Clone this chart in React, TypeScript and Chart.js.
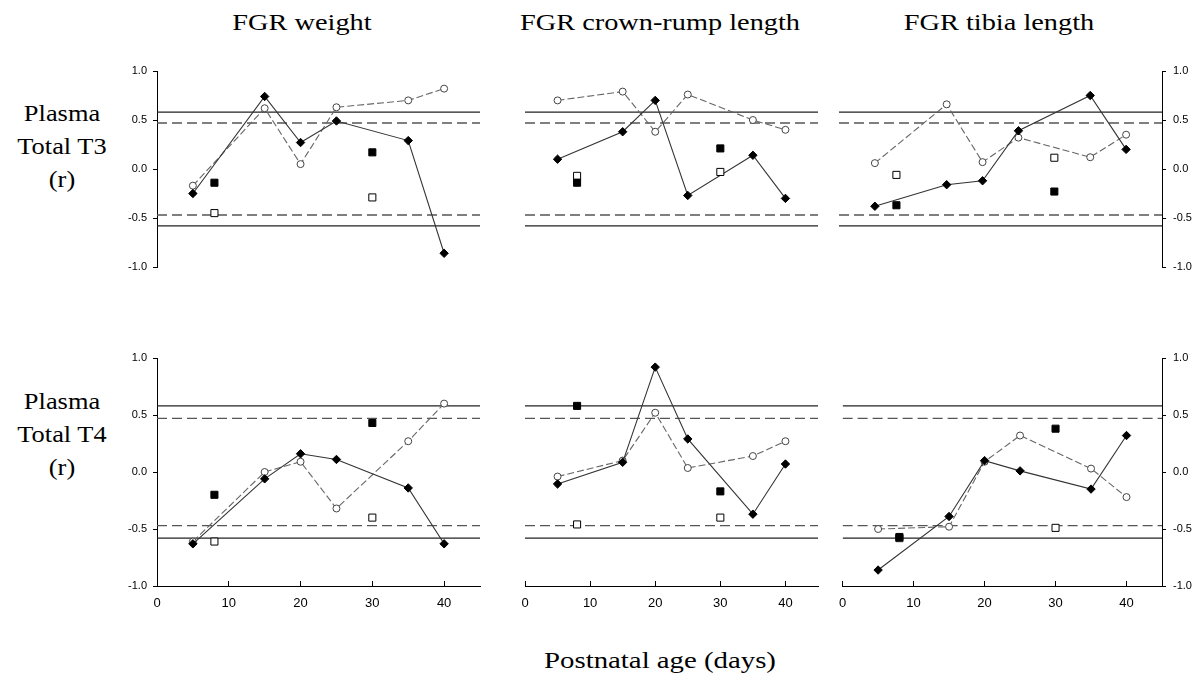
import React, { useEffect, useRef } from 'react';
import { Chart, registerables } from 'chart.js';

Chart.register(...registerables);

// ---------------- DATA ----------------
const AGES = [5, 15, 20, 25, 35, 40];
const SQUARE_AGES = [8, 30];
const X_TICKS = [0, 10, 20, 30, 40];
const Y_TICKS = [-1, -0.5, 0, 0.5, 1];
const REF_SOLID = 0.58;
const REF_DASHED = 0.47;

const COLUMN_TITLES = ['FGR weight', 'FGR crown-rump length', 'FGR tibia length'];
const ROW_LABELS = [['Plasma', 'Total T3', '(r)'], ['Plasma', 'Total T4', '(r)']];
const X_TITLE = 'Postnatal age (days)';

// Plasma Total T3
const T3_WEIGHT_DIAMOND = [-0.25, 0.74, 0.27, 0.49, 0.29, -0.86];
const T3_WEIGHT_CIRCLE = [-0.17, 0.62, 0.05, 0.63, 0.7, 0.82];
const T3_WEIGHT_SQ_FILLED = [-0.14, 0.17];
const T3_WEIGHT_SQ_OPEN = [-0.45, -0.29];

const T3_CRL_DIAMOND = [0.1, 0.38, 0.7, -0.27, 0.14, -0.3];
const T3_CRL_CIRCLE = [0.7, 0.79, 0.38, 0.76, 0.5, 0.4];
const T3_CRL_SQ_FILLED = [-0.14, 0.21];
const T3_CRL_SQ_OPEN = [-0.07, -0.03];

const T3_TIBIA_DIAMOND = [-0.38, -0.16, -0.12, 0.39, 0.75, 0.2];
const T3_TIBIA_CIRCLE = [0.06, 0.66, 0.07, 0.32, 0.12, 0.35];
const T3_TIBIA_SQ_FILLED = [-0.37, -0.23];
const T3_TIBIA_SQ_OPEN = [-0.06, 0.115];

// Plasma Total T4
const T4_WEIGHT_DIAMOND = [-0.63, -0.06, 0.16, 0.11, -0.14, -0.63];
const T4_WEIGHT_CIRCLE = [-0.61, 0.0, 0.09, -0.32, 0.27, 0.6];
const T4_WEIGHT_SQ_FILLED = [-0.2, 0.43];
const T4_WEIGHT_SQ_OPEN = [-0.61, -0.4];

const T4_CRL_DIAMOND = [-0.105, 0.085, 0.92, 0.29, -0.37, 0.07];
const T4_CRL_CIRCLE = [-0.04, 0.1, 0.52, 0.035, 0.14, 0.27];
const T4_CRL_SQ_FILLED = [0.58, -0.17];
const T4_CRL_SQ_OPEN = [-0.46, -0.4];

const T4_TIBIA_DIAMOND = [-0.86, -0.39, 0.1, 0.01, -0.15, 0.32];
const T4_TIBIA_CIRCLE = [-0.5, -0.48, 0.09, 0.32, 0.03, -0.22];
const T4_TIBIA_SQ_FILLED = [-0.57, 0.38];
const T4_TIBIA_SQ_OPEN = [-0.58, -0.49];

const PANELS = [
  [
    [T3_WEIGHT_DIAMOND, T3_WEIGHT_CIRCLE, T3_WEIGHT_SQ_FILLED, T3_WEIGHT_SQ_OPEN],
    [T3_CRL_DIAMOND, T3_CRL_CIRCLE, T3_CRL_SQ_FILLED, T3_CRL_SQ_OPEN],
    [T3_TIBIA_DIAMOND, T3_TIBIA_CIRCLE, T3_TIBIA_SQ_FILLED, T3_TIBIA_SQ_OPEN],
  ],
  [
    [T4_WEIGHT_DIAMOND, T4_WEIGHT_CIRCLE, T4_WEIGHT_SQ_FILLED, T4_WEIGHT_SQ_OPEN],
    [T4_CRL_DIAMOND, T4_CRL_CIRCLE, T4_CRL_SQ_FILLED, T4_CRL_SQ_OPEN],
    [T4_TIBIA_DIAMOND, T4_TIBIA_CIRCLE, T4_TIBIA_SQ_FILLED, T4_TIBIA_SQ_OPEN],
  ],
];

// ---------------- LAYOUT ----------------
const X_MIN = 0;
const X_MAX = 45;
const COLS = [
  { l: 157, r: 480 },
  { l: 495, r: 818 },
  { l: 839, r: 1162 },
];
const ROWS = [
  { t: 71, b: 297 },
  { t: 358, b: 586 },
];
const PAD = 15;
const PAD_RIGHT_LAST = 5;
const Y_AXIS_W = [40, 0, 30];
const X_AXIS_H = [0, 30];

const SERIF = '"Liberation Serif", "Times New Roman", serif';
const TICK_FONT = '"Liberation Sans", Arial, sans-serif';

function zip(xs: number[], ys: number[]) {
  return xs.map((x, i) => ({ x, y: ys[i] }));
}

function refLine(v: number, dashed: boolean) {
  return {
    data: [
      { x: X_MIN, y: v },
      { x: X_MAX, y: v },
    ],
    showLine: true,
    borderColor: dashed ? '#555' : '#222',
    borderWidth: dashed ? 1.4 : 1.2,
    borderDash: dashed ? [10, 5] : [],
    pointRadius: 0,
    order: 10,
  };
}

function Panel({ row, col }: { row: number; col: number }) {
  const ref = useRef<HTMLCanvasElement | null>(null);
  const c = COLS[col];
  const r = ROWS[row];
  const padLeft = PAD;
  const padRight = col === 2 ? PAD_RIGHT_LAST : PAD;
  const yLeftW = col === 0 ? Y_AXIS_W[0] : 0;
  const yRightW = col === 2 ? Y_AXIS_W[2] : 0;
  const left = c.l - padLeft - yLeftW;
  const width = c.r - c.l + padLeft + padRight + yLeftW + yRightW;
  const top = r.t - PAD;
  const height = r.b - r.t + PAD + PAD + X_AXIS_H[row];

  useEffect(() => {
    if (!ref.current) return;
    const [diamond, circle, sqFilled, sqOpen] = PANELS[row][col];
    const chart = new Chart(ref.current, {
      type: 'scatter',
      data: {
        datasets: [
          refLine(REF_SOLID, false),
          refLine(REF_DASHED, true),
          refLine(-REF_DASHED, true),
          refLine(-REF_SOLID, false),
          {
            data: zip(AGES, circle),
            showLine: true,
            borderColor: '#666',
            borderWidth: 1.1,
            borderDash: [7, 3],
            pointStyle: 'circle',
            pointRadius: 3.5,
            pointBorderWidth: 1,
            pointBorderColor: '#444',
            pointBackgroundColor: '#fff',
            order: 3,
          },
          {
            data: zip(AGES, diamond),
            showLine: true,
            borderColor: '#333',
            borderWidth: 1.1,
            pointStyle: 'rectRot',
            pointRadius: 4.2,
            pointBorderWidth: 1,
            pointBorderColor: '#000',
            pointBackgroundColor: '#000',
            order: 2,
          },
          {
            data: zip(SQUARE_AGES, sqFilled),
            showLine: false,
            pointStyle: 'rect',
            pointRadius: 5,
            pointBorderWidth: 1,
            pointBorderColor: '#000',
            pointBackgroundColor: '#000',
            order: 1,
          },
          {
            data: zip(SQUARE_AGES, sqOpen),
            showLine: false,
            pointStyle: 'rect',
            pointRadius: 5,
            pointBorderWidth: 1,
            pointBorderColor: '#000',
            pointBackgroundColor: '#fff',
            order: 1,
          },
        ] as any,
      },
      options: {
        animation: false,
        responsive: false,
        events: [],
        layout: {
          padding: { top: PAD, bottom: PAD, left: padLeft, right: padRight },
        },
        plugins: {
          legend: { display: false },
          tooltip: { enabled: false },
        },
        scales: {
          x: {
            type: 'linear',
            min: X_MIN,
            max: X_MAX,
            display: row === 1,
            afterBuildTicks: (s: any) => {
              s.ticks = X_TICKS.map((v) => ({ value: v }));
            },
            afterFit: (s: any) => {
              s.height = X_AXIS_H[1];
            },
            grid: {
              drawOnChartArea: false,
              drawTicks: true,
              tickLength: -5,
              color: '#000',
              lineWidth: 1,
            },
            border: { display: true, color: '#000', width: 1 },
            ticks: {
              padding: 15,
              color: '#000',
              maxRotation: 0,
              autoSkip: false,
              font: { family: TICK_FONT, size: 13 },
              callback: (v: any) => String(v),
            },
          },
          y: {
            type: 'linear',
            min: -1,
            max: 1,
            display: col !== 1,
            position: col === 2 ? 'right' : 'left',
            afterBuildTicks: (s: any) => {
              s.ticks = Y_TICKS.map((v) => ({ value: v }));
            },
            afterFit: (s: any) => {
              s.width = col === 0 ? Y_AXIS_W[0] : Y_AXIS_W[2];
            },
            grid: {
              drawOnChartArea: false,
              drawTicks: true,
              tickLength: 4,
              color: '#000',
              lineWidth: 1,
            },
            border: { display: true, color: '#000', width: 1 },
            ticks: {
              padding: col === 0 ? 6 : 7,
              color: '#000',
              autoSkip: false,
              font: { family: TICK_FONT, size: 11 },
              callback: (v: any) => Number(v).toFixed(1),
            },
          },
        },
      } as any,
    });
    return () => chart.destroy();
  }, [row, col]);

  return (
    <canvas
      ref={ref}
      width={width}
      height={height}
      style={{ position: 'absolute', left, top, width, height }}
    />
  );
}

const TITLE_CENTERS = [302, 660, 999];
const ROW_LABEL_CENTERS = [146, 434];

export default function App() {
  return (
    <div
      style={{
        position: 'absolute',
        left: 0,
        top: 0,
        width: 1198,
        height: 679,
        overflow: 'hidden',
        background: '#fff',
        fontFamily: SERIF,
        color: '#000',
      }}
    >
      {COLUMN_TITLES.map((t, i) => (
        <div
          key={t}
          style={{
            position: 'absolute',
            left: TITLE_CENTERS[i],
            top: 22,
            transform: 'translate(-50%, -50%) scaleX(1.18)',
            whiteSpace: 'nowrap',
            fontSize: 24,
          }}
        >
          {t}
        </div>
      ))}
      {ROW_LABELS.map((lines, i) => (
        <div
          key={i}
          style={{
            position: 'absolute',
            left: 62,
            top: ROW_LABEL_CENTERS[i],
            transform: 'translate(-50%, -50%) scaleX(1.1)',
            whiteSpace: 'nowrap',
            textAlign: 'center',
            fontSize: 24,
            lineHeight: '33px',
          }}
        >
          {lines.map((l) => (
            <div key={l}>{l}</div>
          ))}
        </div>
      ))}
      <div
        style={{
          position: 'absolute',
          left: 660,
          top: 660,
          transform: 'translate(-50%, -50%) scaleX(1.2)',
          whiteSpace: 'nowrap',
          fontSize: 24,
        }}
      >
        {X_TITLE}
      </div>
      {[0, 1].map((row) =>
        [0, 1, 2].map((col) => <Panel key={`${row}-${col}`} row={row} col={col} />)
      )}
    </div>
  );
}
